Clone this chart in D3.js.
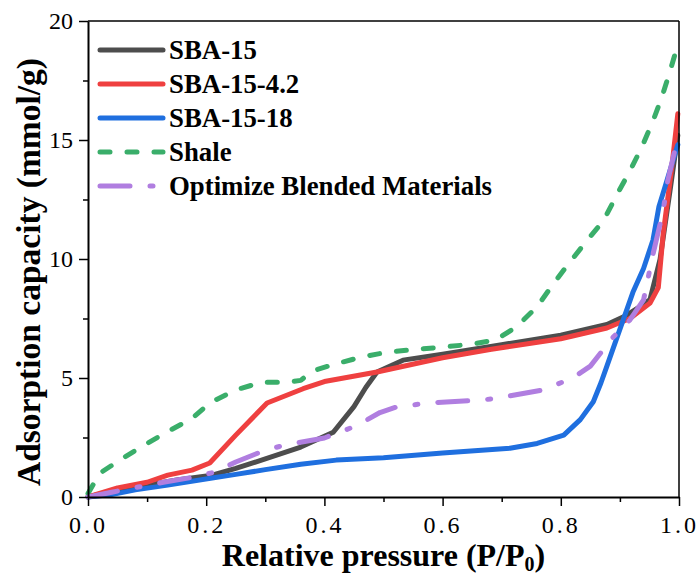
<!DOCTYPE html>
<html>
<head>
<meta charset="utf-8">
<script src="https://d3js.org/d3.v7.min.js"></script>
<style>
  body { margin: 0; background: #fff; }
  svg { display: block; }
</style>
</head>
<body>
<script>
// P/P0 vs adsorption capacity (mmol/g)
var seriesNames = ['SBA-15', 'SBA-15-4.2', 'SBA-15-18', 'Shale', 'Optimize Blended Materials'];

var sba15 = [[0,0],[0.05,0.3],[0.1,0.5],[0.15,0.72],[0.21,0.92],[0.25,1.2],[0.3,1.6],[0.36,2.1],[0.415,2.72],
  [0.45,3.8],[0.47,4.6],[0.489,5.25],[0.533,5.75],[0.6,6.0],[0.7,6.4],[0.8,6.8],[0.878,7.25],[0.909,7.6],
  [0.934,8.0],[0.951,8.3],[0.968,10.0],[0.985,12.9],[0.998,15.2]];

var sba15_42 = [[0,0],[0.05,0.38],[0.1,0.62],[0.135,0.92],[0.176,1.13],[0.206,1.43],[0.25,2.6],[0.303,3.95],
  [0.364,4.55],[0.4,4.85],[0.489,5.25],[0.6,5.85],[0.68,6.2],[0.8,6.65],[0.878,7.1],[0.917,7.5],[0.951,8.15],
  [0.965,8.8],[0.973,11.0],[0.988,13.9],[0.998,16.1]];

var sba15_18 = [[0,0],[0.04,0.1],[0.08,0.3],[0.135,0.5],[0.21,0.8],[0.25,0.95],[0.3,1.15],[0.36,1.38],
  [0.42,1.55],[0.5,1.65],[0.6,1.85],[0.714,2.05],[0.76,2.25],[0.805,2.6],[0.833,3.25],[0.855,4.0],[0.868,4.8],
  [0.878,5.5],[0.905,7.4],[0.922,8.6],[0.94,9.6],[0.956,10.8],[0.966,12.2],[0.976,13.0],[0.998,14.8]];

var shale = [[0,0.15],[0.02,1.0],[0.06,1.65],[0.1,2.25],[0.135,2.75],[0.176,3.3],[0.206,3.95],[0.25,4.5],
  [0.294,4.82],[0.335,4.82],[0.36,4.9],[0.38,5.3],[0.42,5.6],[0.466,5.9],[0.51,6.1],[0.6,6.3],[0.65,6.42],
  [0.69,6.6],[0.725,7.15],[0.76,8.0],[0.78,8.7],[0.81,9.7],[0.845,10.8],[0.872,11.6],[0.897,12.8],
  [0.917,13.7],[0.937,14.7],[0.956,15.8],[0.971,16.8],[0.985,17.9],[0.999,19.1]];

var blended = [[0,0],[0.04,0.2],[0.085,0.42],[0.13,0.63],[0.18,0.84],[0.215,1.05],[0.25,1.47],[0.3,1.97],
  [0.333,2.18],[0.4,2.48],[0.455,3.0],[0.494,3.55],[0.522,3.78],[0.575,3.95],[0.67,4.08],[0.703,4.2],
  [0.77,4.5],[0.82,5.0],[0.85,5.5],[0.888,6.7],[0.917,7.44],[0.94,8.28],[0.956,10.2],[0.973,12.0],
  [0.981,13.3],[0.998,15.1]];

var xTicks = [0, 0.2, 0.4, 0.6, 0.8, 1.0];
var yTicks = [0, 5, 10, 15, 20];

var W = 700, H = 575;
var margin = { top: 21, right: 21, bottom: 78, left: 88 };
var width = W - margin.left - margin.right;
var height = H - margin.top - margin.bottom;

var svg = d3.select('body').append('svg').attr('width', W).attr('height', H);
var g = svg.append('g').attr('transform', 'translate(' + margin.left + ',' + margin.top + ')');

var x = d3.scaleLinear().domain([0, 1]).range([0, width]);
var y = d3.scaleLinear().domain([0, 20]).range([height, 0]);

var serif = '"Liberation Serif", "Times New Roman", serif';

var styles = [
  { data: sba15, color: '#4d4d4d', dash: null },
  { data: sba15_42, color: '#ef4040', dash: null },
  { data: sba15_18, color: '#1f6fdf', dash: null },
  { data: shale, color: '#3aae6a', dash: '10,17' },
  { data: blended, color: '#b07ee0', dash: '30,20,3,20' }
];

var line = d3.line().x(function (d) { return x(d[0]); }).y(function (d) { return y(d[1]); });

styles.forEach(function (s) {
  g.append('path')
    .datum(s.data)
    .attr('d', line)
    .attr('fill', 'none')
    .attr('stroke', s.color)
    .attr('stroke-width', 5)
    .attr('stroke-linejoin', 'round')
    .attr('stroke-linecap', 'round')
    .attr('stroke-dasharray', s.dash);
});

// frame
g.append('line').attr('x1', 0).attr('x2', width).attr('y1', 0).attr('y2', 0).attr('stroke', '#000').attr('stroke-width', 1.5);
g.append('line').attr('x1', width).attr('x2', width).attr('y1', 0).attr('y2', height).attr('stroke', '#000').attr('stroke-width', 1.5);

// minor ticks
var xMinor = g.append('g').attr('transform', 'translate(0,' + height + ')')
  .call(d3.axisBottom(x).tickValues([0.1, 0.3, 0.5, 0.7, 0.9]).tickSize(5).tickFormat(''));
xMinor.select('.domain').remove();
var yMinor = g.append('g')
  .call(d3.axisLeft(y).tickValues([2.5, 7.5, 12.5, 17.5]).tickSize(5).tickFormat(''));
yMinor.select('.domain').remove();

var xAxis = g.append('g').attr('transform', 'translate(0,' + height + ')')
  .call(d3.axisBottom(x).tickValues(xTicks).tickSize(9).tickSizeOuter(0).tickPadding(10)
    .tickFormat(function (d) { return d3.format('.1f')(d); }));
var yAxis = g.append('g')
  .call(d3.axisLeft(y).tickValues(yTicks).tickSize(9).tickSizeOuter(0).tickPadding(6));

[xAxis, yAxis, xMinor, yMinor].forEach(function (a) {
  a.selectAll('line').attr('stroke', '#000').attr('stroke-width', 1.5);
  a.select('.domain').attr('stroke', '#000').attr('stroke-width', 2);
});
xAxis.selectAll('text').style('font-family', serif).style('font-size', '24px').style('letter-spacing', '3px').attr('fill', '#000');
yAxis.selectAll('text').style('font-family', serif).style('font-size', '24px').attr('fill', '#000');

// axis titles
var xt = svg.append('text')
  .attr('x', margin.left + width / 2).attr('y', 566)
  .attr('text-anchor', 'middle')
  .style('font-family', serif).style('font-size', '32px').style('font-weight', 'bold');
xt.append('tspan').text('Relative pressure (P/P');
xt.append('tspan').attr('dy', 5).style('font-size', '20px').text('0');
xt.append('tspan').attr('dy', -5).text(')');

svg.append('text')
  .attr('transform', 'translate(40,272) rotate(-90)')
  .attr('text-anchor', 'middle')
  .style('font-family', serif).style('font-size', '33.5px').style('font-weight', 'bold')
  .text('Adsorption capacity (mmol/g)');

// legend
var legend = svg.append('g').attr('transform', 'translate(100,50)');
styles.forEach(function (s, i) {
  var row = legend.append('g').attr('transform', 'translate(0,' + (i * 34) + ')');
  row.append('line').attr('x1', 0).attr('x2', 63).attr('y1', 0).attr('y2', 0)
    .attr('stroke', s.color).attr('stroke-width', 5).attr('stroke-linecap', 'round')
    .attr('stroke-dasharray', s.dash);
  row.append('text').attr('x', 69).attr('y', 9)
    .style('font-family', serif).style('font-size', '26.8px').style('font-weight', 'bold')
    .text(seriesNames[i]);
});
</script>
</body>
</html>
